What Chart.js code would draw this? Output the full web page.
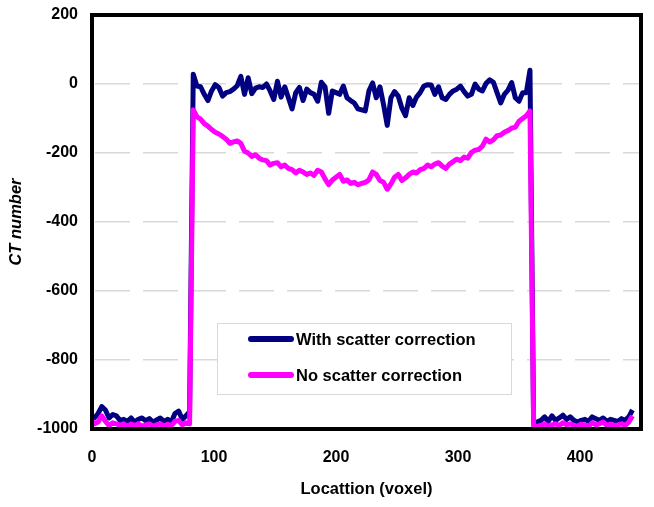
<!DOCTYPE html>
<html>
<head>
<meta charset="utf-8">
<script src="https://cdn.jsdelivr.net/npm/chart.js@4.4.0/dist/chart.umd.min.js"></script>
<style>
  html, body { margin: 0; padding: 0; background: #fff; }
</style>
</head>
<body>
<canvas id="ctChart" width="654" height="507"></canvas>
<script>
// voxel location of each sample
const locations = [0,
  2, 5, 8, 11, 14, 17, 20, 23, 26, 29, 32, 35, 38, 41, 44, 47, 50, 53, 56, 59, 62, 65, 68, 71, 74, 77, 80,
  83, 86, 89, 92, 95, 98,
  101, 104, 107, 110, 113, 116, 119, 122, 125, 128,
  131, 134, 137, 140, 143, 146, 149, 152, 155, 158,
  161, 164, 167, 170, 173, 176, 179, 182, 185, 188,
  191, 194, 197, 200, 203, 206, 209, 212, 215, 218,
  221, 224, 227, 230, 233, 236, 239, 242, 245, 248,
  251, 254, 257, 260, 263, 266, 269, 272, 275, 278,
  281, 284, 287, 290, 293, 296, 299, 302, 305, 308,
  311, 314, 317, 320, 323, 326, 329, 332, 335, 338,
  341, 344, 347, 350, 353, 356, 359,
  362, 365, 368, 371, 374, 377, 380, 383, 386, 389, 392, 395, 398, 401,
  404, 407, 410, 413, 416, 419, 422, 425, 428, 431, 434, 437, 440, 443];

const withCorrection = [-965,
  -968, -955, -935, -945, -968, -958, -962, -975, -972, -978, -968, -980, -972, -968,
  -976, -970, -980, -974, -968, -978, -972, -980, -955, -948, -972, -962, -950,
  28, -6, -8, -30, -48, -20,
  -2, -10, -35, -25, -22, -15, -5, 22, -30, 18,
  -28, -12, -8, -10, 0, -20, -45, 8, -38, -8,
  -40, -72, -25, -10, -48, -15, -25, -30, -50, 5,
  -8, -85, -20, -25, -30, -6, -40, -48, -55, -72,
  -75, -78, -20, 3, -40, -8, -60, -120, -40, -22,
  -35, -70, -92, -40, -62, -38, -25, -6, -2, -3,
  -30, -8, -40, -45, -30, -20, -15, -6, -22, -35,
  -30, 0, -15, -20, 2, 12, 5, -25, -55, -30,
  -18, 4, -40, -50, -25, -25, 40,
  -985, -980, -975, -965, -978, -962, -975, -968, -960, -972, -965, -975, -980, -975,
  -972, -978, -965, -970, -975, -968, -978, -972, -975, -978, -970, -975, -965, -945];

const noCorrection = [-975,
  -985, -980, -962, -978, -990, -982, -985, -990, -985, -992, -986, -990, -985, -992,
  -988, -985, -992, -988, -985, -992, -986, -990, -978, -975, -988, -982, -985,
  -75, -95, -102, -115, -122, -132,
  -140, -145, -152, -160, -172, -168, -165, -172, -195, -200,
  -210, -205, -215, -220, -222, -235, -230, -228, -240, -235,
  -245, -248, -258, -250, -255, -262, -258, -265, -250, -255,
  -275, -292, -278, -270, -262, -282, -278, -288, -285, -292,
  -288, -285, -278, -255, -262, -280, -285, -305, -290, -270,
  -262, -280, -272, -262, -255, -258, -248, -245, -235, -240,
  -232, -228, -238, -245, -232, -225, -218, -222, -212, -215,
  -198, -192, -190, -180, -160, -168, -162, -150, -148, -140,
  -135, -128, -125, -108, -100, -92, -78,
  -995, -992, -990, -985, -992, -988, -985, -990, -982, -988, -985, -990, -992, -986,
  -988, -992, -982, -988, -985, -980, -990, -986, -990, -988, -985, -990, -980, -962];

const seriesNames = ['With scatter correction', 'No scatter correction'];
const seriesColors = ['#000080', '#FF00FF'];
const xRange = [0, 450], xStep = 100;
const yRange = [-1000, 200], yStep = 200;

const FONT = '"Liberation Sans", Arial, sans-serif';

const marco = {
    id: 'marco',
    afterDatasetsDraw(chart) {
        const { ctx, chartArea: a } = chart;
        ctx.save();
        // leyenda dentro del area
        const lx = a.left + 125, ly = a.top + 308, lw = 294, lh = 71;
        ctx.fillStyle = '#fff';
        ctx.fillRect(lx, ly, lw, lh);
        ctx.strokeStyle = '#d9d9d9'; ctx.lineWidth = 1;
        ctx.strokeRect(lx + 0.5, ly + 0.5, lw, lh);
        ctx.font = 'bold 16.5px ' + FONT;
        ctx.textBaseline = 'middle'; ctx.textAlign = 'left';
        seriesNames.forEach((n, i) => {
            const y = ly + 16 + i * 36;
            ctx.strokeStyle = seriesColors[i]; ctx.lineWidth = 6; ctx.lineCap = 'round';
            ctx.beginPath(); ctx.moveTo(lx + 34, y); ctx.lineTo(lx + 74, y); ctx.stroke();
            ctx.fillStyle = '#000';
            ctx.fillText(n, lx + 79, y + 1);
        });
        // marco negro
        ctx.strokeStyle = '#000'; ctx.lineWidth = 4; ctx.lineCap = 'butt';
        ctx.strokeRect(a.left, a.top, a.right - a.left, a.bottom - a.top);
        ctx.restore();
    }
};

new Chart(document.getElementById('ctChart'), {
    type: 'line',
    data: {
        datasets: [
            { label: seriesNames[0], data: locations.map((x, i) => ({ x, y: withCorrection[i] })),
              borderColor: seriesColors[0], borderWidth: 5, borderJoinStyle: 'round', pointRadius: 0, tension: 0, order: 1 },
            { label: seriesNames[1], data: locations.map((x, i) => ({ x, y: noCorrection[i] })),
              borderColor: seriesColors[1], borderWidth: 5, borderJoinStyle: 'round', pointRadius: 0, tension: 0, order: 0 }
        ]
    },
    options: {
        responsive: false, animation: false,
        layout: { padding: { left: 0, right: 13, top: 15, bottom: 0 } },
        plugins: { legend: { display: false }, tooltip: { enabled: false } },
        scales: {
            x: {
                type: 'linear', min: xRange[0], max: xRange[1],
                afterFit: s => { s.height = 78; s.paddingLeft = 0; s.paddingRight = 0; },
                grid: { display: false },
                border: { display: false },
                ticks: { stepSize: xStep, includeBounds: false, padding: 11, color: '#000', font: { family: FONT, size: 16, weight: 'bold' } },
                title: { display: true, text: 'Locattion (voxel)', color: '#000', padding: { top: 0, bottom: 8 }, font: { family: FONT, size: 16.5, weight: 'bold' } }
            },
            y: {
                min: yRange[0], max: yRange[1],
                afterFit: s => { s.width = 92; s.paddingTop = 0; s.paddingBottom = 0; },
                grid: { color: '#d9d9d9', lineWidth: 1.5, drawTicks: false },
                border: { display: false, dash: [35, 13], dashOffset: -3 },
                ticks: { stepSize: yStep, padding: 14, color: '#000', callback: v => String(v), font: { family: FONT, size: 16, weight: 'bold' } },
                title: { display: true, text: 'CT number', color: '#000', padding: { top: 7, bottom: 0 }, font: { family: FONT, size: 16.5, weight: 'bold', style: 'italic' } }
            }
        }
    },
    plugins: [marco]
});
</script>
</body>
</html>
